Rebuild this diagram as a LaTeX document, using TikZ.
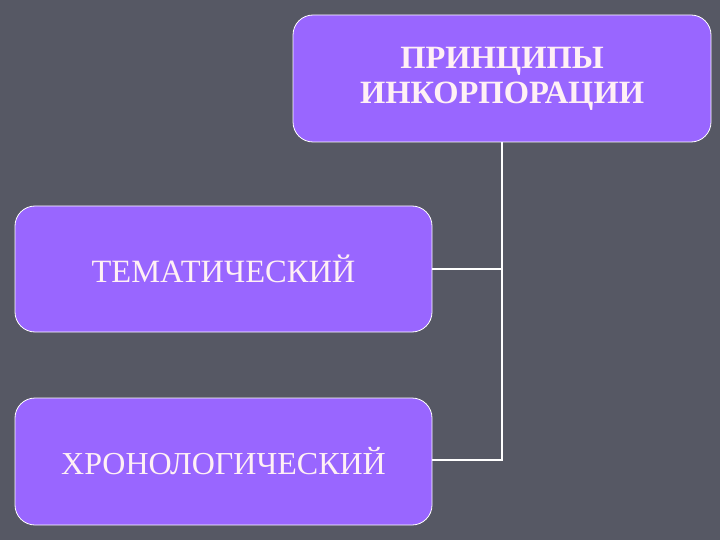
\documentclass[tikz,border=0pt]{standalone}
\usepackage{fontspec}
\setmainfont{Liberation Serif}
\definecolor{slidebg}{RGB}{86,88,100}
\definecolor{boxfill}{RGB}{153,102,255}
\definecolor{boxtext}{RGB}{255,240,245}
\begin{document}
\begin{tikzpicture}[x=1pt,y=-1pt]
    \fill[slidebg] (0,0) rectangle (720,540);
    \useasboundingbox (0,0) rectangle (720,540);
    \begin{scope}[every node/.style={rectangle,rounded corners=20pt,draw=white,line width=0.8pt,fill=boxfill,text=boxtext,align=center,inner sep=0pt}]
        \node[minimum width=418pt,minimum height=127pt,font=\bfseries\fontsize{32.5}{35}\selectfont] (P) at (502,78.5) {ПРИНЦИПЫ\\ИНКОРПОРАЦИИ};
        \node[minimum width=417pt,minimum height=126pt,font=\fontsize{32.5}{36}\selectfont] (T) at (223.5,269) {ТЕМАТИЧЕСКИЙ};
        \node[minimum width=417pt,minimum height=127pt,font=\fontsize{32}{36}\selectfont] (H) at (223.5,461.5) {ХРОНОЛОГИЧЕСКИЙ};
    \end{scope}
    \coordinate (J) at (502,460);
    \begin{scope}[every edge/.style={draw=white,line width=2pt}]
        \draw (P.south) edge (J);
        \draw (T.east) edge (T.east -| J);
        \draw (H.east |- J) edge ([xshift=1pt]J);
    \end{scope}
\end{tikzpicture}
\end{document}
